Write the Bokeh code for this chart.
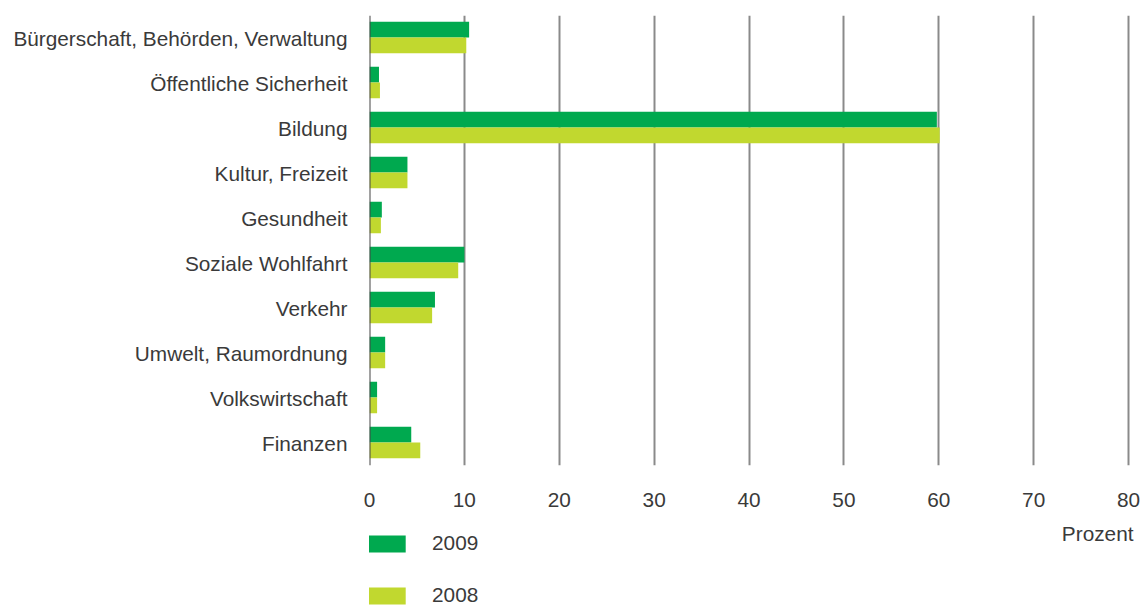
from bokeh.plotting import figure
from bokeh.layouts import column
from bokeh.models import ColumnDataSource, FactorRange, Range1d, Span, Label, Legend, LegendItem, FixedTicker
from bokeh.transform import dodge
from bokeh.embed import file_html
from bokeh.resources import INLINE

categories = ["Bürgerschaft, Behörden, Verwaltung", "Öffentliche Sicherheit", "Bildung",
              "Kultur, Freizeit", "Gesundheit", "Soziale Wohlfahrt", "Verkehr",
              "Umwelt, Raumordnung", "Volkswirtschaft", "Finanzen"]
values_2009 = [10.5, 1.0, 59.8, 4.0, 1.3, 10.0, 6.9, 1.65, 0.8, 4.4]
values_2008 = [10.2, 1.1, 60.1, 4.0, 1.2, 9.35, 6.6, 1.65, 0.8, 5.35]
x_ticks = [0, 10, 20, 30, 40, 50, 60, 70, 80]
series_labels = ["2009", "2008"]
unit_label = "Prozent"

FONT = "Liberation Sans"
FSIZE = "20.8px"
TXT = "#3a3a3a"
C2009 = "#00A94F"
C2008 = "#C1D82F"

src = ColumnDataSource(dict(cat=categories, v2009=values_2009, v2008=values_2008))

# frame spans x 369..1134 px; value 80 sits at 1128 px
p = figure(width=1141, height=515, output_backend="svg", toolbar_location=None,
           y_range=FactorRange(factors=list(reversed(categories)), range_padding=0),
           x_range=Range1d(0, 80.63),
           min_border_left=369, min_border_right=7, min_border_top=15, min_border_bottom=50)
p.outline_line_color = None

r1 = p.hbar(y=dodge("cat", 0.185, range=p.y_range), right="v2009", left=0, height=0.35,
            source=src, fill_color=C2009, line_color=None)
r2 = p.hbar(y=dodge("cat", -0.165, range=p.y_range), right="v2008", left=0, height=0.35,
            source=src, fill_color=C2008, line_color=None)

p.xaxis.ticker = FixedTicker(ticks=x_ticks)
p.xaxis.axis_line_color = None
p.xaxis.major_tick_line_color = None
p.xaxis.major_tick_out = 0
p.xaxis.major_tick_in = 0
p.xaxis.minor_tick_line_color = None
p.xaxis.major_label_text_font = FONT
p.xaxis.major_label_text_font_size = FSIZE
p.xaxis.major_label_text_color = TXT
p.xaxis.major_label_standoff = 27

p.yaxis.axis_line_color = None
p.yaxis.major_tick_line_color = None
p.yaxis.major_tick_out = 0
p.yaxis.major_tick_in = 0
p.yaxis.minor_tick_line_color = None
p.yaxis.major_label_text_font = FONT
p.yaxis.major_label_text_font_size = FSIZE
p.yaxis.major_label_text_color = TXT
p.yaxis.major_label_standoff = 22

p.ygrid.grid_line_color = None
p.xgrid.ticker = FixedTicker(ticks=x_ticks[1:])
p.xgrid.grid_line_color = "#8a8a8a"
p.xgrid.grid_line_width = 2

p.add_layout(Span(location=0, dimension="height", line_color="#444444", line_width=2))

# lower strip: legend and unit label (frame aligned with the chart above)
q = figure(width=1141, height=93, output_backend="svg", toolbar_location=None,
           x_range=p.x_range, y_range=Range1d(0, 93),
           x_axis_location=None, y_axis_location=None, min_border=0)
q.outline_line_color = None
q.grid.visible = False
offscreen = ColumnDataSource(dict(y=[-1000], right=[1]))
g1 = q.hbar(y="y", right="right", left=0, height=1, source=offscreen, fill_color=C2009, line_color=None)
g2 = q.hbar(y="y", right="right", left=0, height=1, source=offscreen, fill_color=C2008, line_color=None)

q.add_layout(Label(x=80, y=75, x_offset=5, text=unit_label, text_align="right", text_baseline="middle",
                   text_font=FONT, text_font_size=FSIZE, text_color=TXT))

legend = Legend(items=[LegendItem(label=series_labels[0], renderers=[g1]),
                       LegendItem(label=series_labels[1], renderers=[g2])],
                location=(-7, 1), orientation="vertical",
                glyph_width=48, glyph_height=21, label_standoff=22, spacing=28,
                padding=0, margin=0, border_line_color=None, background_fill_alpha=0,
                label_text_font=FONT, label_text_font_size=FSIZE, label_text_color=TXT,
                label_height=17)
q.add_layout(legend, "center")

layout = column(p, q, spacing=0)
open("out.html", "w").write(file_html(layout, INLINE))
